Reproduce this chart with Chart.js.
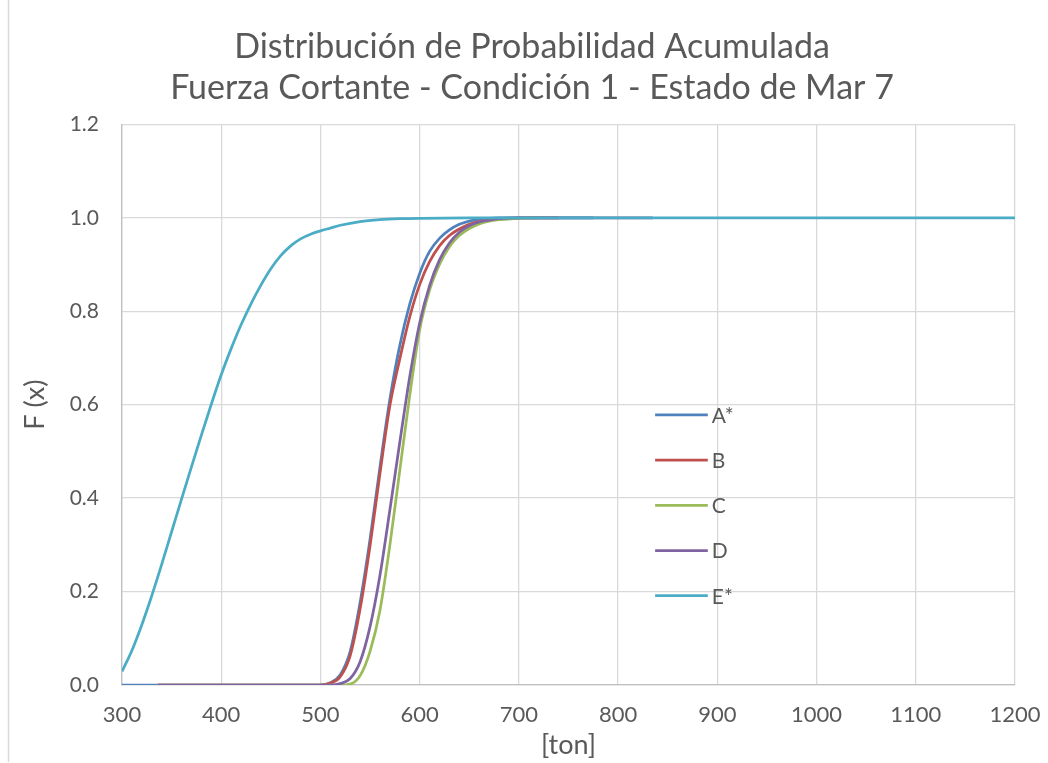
<!DOCTYPE html>
<html>
<head>
<meta charset="utf-8">
<script src="https://cdn.jsdelivr.net/npm/chart.js@4.4.1/dist/chart.umd.min.js"></script>
<style>
html,body{margin:0;padding:0;background:#fff;}
#wrap{width:1048px;height:763px;position:relative;}
</style>
</head>
<body>
<div id="wrap"><canvas id="c" width="1048" height="763"></canvas></div>
<script>
// ---- data ----
const titleLines = ['Distribución de Probabilidad Acumulada', 'Fuerza Cortante - Condición 1 - Estado de Mar 7'];
const xAxisTitle = '[ton]';
const yAxisTitle = 'F (x)';
const seriesNames = ['A*', 'B', 'C', 'D', 'E*'];
const seriesColors = ['#4F81BD', '#C0504D', '#9BBB59', '#8064A2', '#4BACC6'];
const xTicks = [300, 400, 500, 600, 700, 800, 900, 1000, 1100, 1200];
const yTicks = [0, 0.2, 0.4, 0.6, 0.8, 1.0, 1.2];

const xA = [300, 400, 500, 510, 520, 530, 540, 550, 560, 570, 580, 590, 600, 610, 620, 630, 640, 650, 660, 670, 680, 700, 775];
const yA = [0, 0, 0, 0.005, 0.022, 0.072, 0.177, 0.312, 0.467, 0.612, 0.727, 0.815, 0.881, 0.928, 0.956, 0.974, 0.986, 0.993, 0.997, 0.999, 1.0, 1.0, 1.0];

const xB = [336, 400, 500, 510, 520, 530, 540, 550, 560, 570, 580, 590, 600, 610, 620, 630, 640, 650, 660, 670, 680, 690, 700, 740];
const yB = [0, 0, 0, 0.004, 0.018, 0.063, 0.163, 0.298, 0.453, 0.598, 0.698, 0.788, 0.857, 0.906, 0.94, 0.962, 0.976, 0.986, 0.992, 0.995, 0.997, 0.999, 1.0, 1.0];

const xC = [336, 400, 500, 520, 530, 540, 550, 560, 570, 580, 590, 600, 610, 620, 630, 640, 650, 660, 670, 680, 700, 720];
const yC = [0, 0, 0, 0, 0.002, 0.02, 0.072, 0.16, 0.3, 0.46, 0.62, 0.76, 0.845, 0.9, 0.938, 0.962, 0.977, 0.987, 0.993, 0.996, 0.999, 1.0];

const xD = [336, 400, 500, 510, 520, 530, 540, 550, 560, 570, 580, 590, 600, 610, 620, 630, 640, 650, 660, 670, 680, 700, 835];
const yD = [0, 0, 0, 0, 0.003, 0.014, 0.05, 0.125, 0.235, 0.375, 0.52, 0.66, 0.775, 0.855, 0.91, 0.946, 0.969, 0.983, 0.991, 0.995, 0.998, 1.0, 1.0];

const xE = [300, 310, 320, 330, 340, 350, 360, 370, 380, 390, 400, 410, 420, 430, 440, 450, 460, 470, 480, 490, 500, 510, 520, 540, 560, 580, 600, 650, 700, 800, 900, 1000, 1100, 1200];
const yE = [0.029, 0.074, 0.129, 0.191, 0.258, 0.328, 0.398, 0.467, 0.535, 0.601, 0.664, 0.72, 0.771, 0.816, 0.856, 0.891, 0.919, 0.94, 0.955, 0.965, 0.972, 0.978, 0.984, 0.992, 0.996, 0.998, 0.999, 1.0, 1.0, 1.0, 1.0, 1.0, 1.0, 1.0];

const seriesX = [xA, xB, xC, xD, xE];
const seriesY = [yA, yB, yC, yD, yE];

// ---- styling ----
const FONT = 'Lato, "Open Sans", "Liberation Sans", sans-serif';
const TEXT = '#595959';

const datasets = seriesNames.map((name, k) => ({
  label: name,
  data: seriesX[k].map((x, i) => ({x: x, y: seriesY[k][i]})),
  borderColor: seriesColors[k],
  backgroundColor: seriesColors[k],
  borderWidth: 2.75,
  pointRadius: 0,
  pointHoverRadius: 0,
  fill: false,
  cubicInterpolationMode: 'monotone',
  order: seriesNames.length - k
}));

const frameLine = {
  id: 'frameLine',
  afterLayout(chart) {
    // the reference title is centred on the whole picture
    if (chart.titleBlock) {
      chart.titleBlock.left = 16;
      chart.titleBlock.right = chart.width;
    }
  },
  beforeDraw(chart) {
    const ctx = chart.ctx;
    ctx.save();
    ctx.strokeStyle = '#d9d9d9';
    ctx.lineWidth = 1.5;
    ctx.beginPath();
    ctx.moveTo(8.5, 0);
    ctx.lineTo(8.5, chart.height - 1);
    ctx.stroke();
    ctx.restore();
  }
};

const inlineLegend = {
  id: 'inlineLegend',
  afterDatasetsDraw(chart) {
    const {ctx, chartArea: ca} = chart;
    const x0 = ca.left + ca.width * 0.597;
    const len = ca.width * 0.059;
    const y0 = ca.top + ca.height * 0.518;
    const dy = ca.height * 0.0807;
    ctx.save();
    ctx.font = '21px ' + FONT;
    ctx.textBaseline = 'middle';
    ctx.textAlign = 'left';
    chart.data.datasets.forEach((ds, i) => {
      const y = y0 + i * dy;
      ctx.strokeStyle = ds.borderColor;
      ctx.lineWidth = 2.75;
      ctx.beginPath();
      ctx.moveTo(x0, y);
      ctx.lineTo(x0 + len, y);
      ctx.stroke();
      ctx.fillStyle = TEXT;
      ctx.fillText(ds.label, x0 + len + 4, y + 1);
    });
    ctx.restore();
  }
};

new Chart(document.getElementById('c'), {
  type: 'line',
  data: {datasets: datasets},
  plugins: [frameLine, inlineLegend],
  options: {
    responsive: false,
    devicePixelRatio: 1,
    animation: false,
    events: [],
    layout: {padding: {left: 10, right: 33, top: 0, bottom: 0}},
    plugins: {
      legend: {display: false},
      tooltip: {enabled: false},
      title: {
        display: true,
        text: titleLines,
        color: TEXT,
        font: {family: FONT, size: 34, weight: 'normal', lineHeight: 1.226},
        padding: {top: 26, bottom: 15}
      }
    },
    scales: {
      x: {
        type: 'linear',
        min: xTicks[0],
        max: xTicks[xTicks.length - 1],
        afterBuildTicks(scale) { scale.ticks = xTicks.map(v => ({value: v})); },
        afterFit(scale) { scale.height = 78; scale.paddingLeft = 0; scale.paddingRight = 0; },
        grid: {color: '#d9d9d9', lineWidth: 1.3, drawTicks: false},
        border: {color: '#bfbfbf', width: 1.3},
        ticks: {color: TEXT, font: {family: FONT, size: 22}, padding: 17, autoSkip: false, maxRotation: 0,
                callback: v => String(v)},
        title: {display: true, text: xAxisTitle, color: TEXT, font: {family: FONT, size: 27}, padding: {top: 0, bottom: 2}}
      },
      y: {
        type: 'linear',
        min: yTicks[0],
        max: yTicks[yTicks.length - 1],
        afterBuildTicks(scale) { scale.ticks = yTicks.map(v => ({value: v})); },
        afterFit(scale) { scale.width = 112; },
        grid: {color: '#d9d9d9', lineWidth: 1.3, drawTicks: false},
        border: {color: '#bfbfbf', width: 1.3},
        ticks: {color: TEXT, font: {family: FONT, size: 21}, padding: 23, callback: v => Number(v).toFixed(1)},
        title: {display: true, text: yAxisTitle, color: TEXT, font: {family: FONT, size: 27}, padding: {top: 9, bottom: 0}}
      }
    }
  }
});
</script>
</body>
</html>
